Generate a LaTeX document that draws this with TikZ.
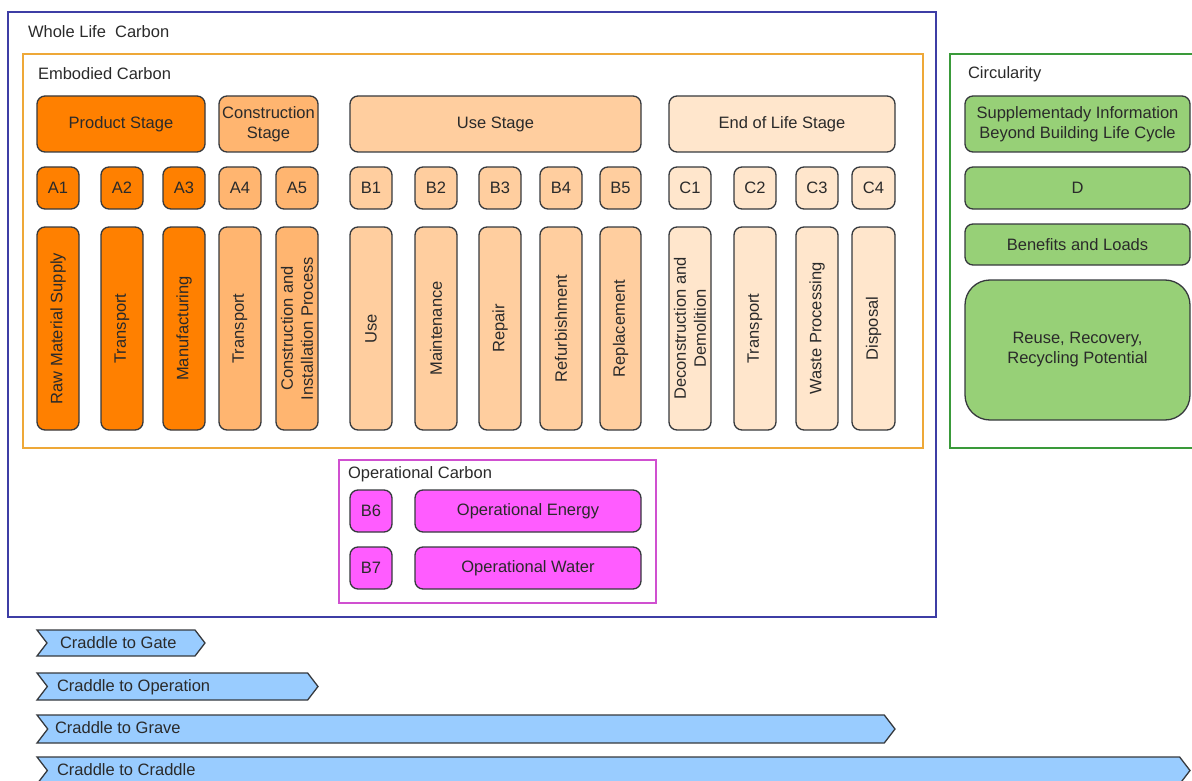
\documentclass[tikz,border=0pt]{standalone}
\usepackage{fontspec}
\setmainfont{Liberation Sans}
\usetikzlibrary{shapes.symbols}
\definecolor{strk}{HTML}{36393D}
\definecolor{txt}{HTML}{2A2A2A}
\definecolor{prod}{HTML}{FF8000}
\definecolor{cons}{HTML}{FFB570}
\definecolor{usest}{HTML}{FFCE9F}
\definecolor{eol}{HTML}{FFE6CC}
\definecolor{opc}{HTML}{FF5CFF}
\definecolor{circ}{HTML}{97D077}
\definecolor{chev}{HTML}{99CCFF}
\definecolor{wlc}{HTML}{3D3DA5}
\definecolor{emb}{HTML}{EEA838}
\definecolor{circfr}{HTML}{3A9A3A}
\definecolor{opfr}{HTML}{D050D0}
\newcommand\bx[7]{%
  \pgfmathsetmacro\bxw{#4-#2}\pgfmathsetmacro\bxh{#5-#3}%
  \pgfmathsetmacro\bxx{(#2+#4)/2}\pgfmathsetmacro\bxy{(#3+#5)/2}%
  \node[#6, minimum width=\bxw pt, minimum height=\bxh pt] (#1) at (\bxx,\bxy) {#7};}
\newcommand\vbx[7]{%
  \pgfmathsetmacro\bxw{#4-#2}\pgfmathsetmacro\bxh{#5-#3}%
  \pgfmathsetmacro\bxx{(#2+#4)/2}\pgfmathsetmacro\bxy{(#3+#5)/2}%
  \node[#6, rotate=90, minimum width=\bxh pt, minimum height=\bxw pt] (#1) at (\bxx,\bxy) {#7};}
\tikzset{
  base/.style={inner sep=0pt, outer sep=0pt, text=txt, align=center,
    font=\fontsize{16.5}{20}\selectfont},
  box/.style={base, draw=strk, line width=1.3pt, rounded corners=8pt},
  pbox/.style={box, fill=prod},
  cbox/.style={box, fill=cons},
  ubox/.style={box, fill=usest},
  ebox/.style={box, fill=eol},
  obox/.style={box, fill=opc},
  gbox/.style={box, fill=circ},
  frame/.style={inner sep=0pt, outer sep=0pt, line width=1.2pt},
  lbl/.style={base, anchor=west},
  chevbox/.style={signal, signal from=west, signal to=east, signal pointer angle=105,
    draw=strk, fill=chev, line width=1.3pt, inner sep=0pt, outer sep=0pt},
}
\begin{document}
\begin{tikzpicture}[x=1pt,y=-1pt]
\useasboundingbox (0,0) rectangle (1192,781);
\clip (0,0) rectangle (1192,781);
% frames
\bx{wlcf}{8}{12}{936}{617}{frame, draw=wlc}{}
\node[lbl] (wlct) at (28,32) {Whole Life\ \ Carbon};
\bx{embf}{23}{54}{923}{448}{frame, draw=emb}{}
\node[lbl] (embt) at (38,74) {Embodied Carbon};
\bx{circf}{950}{54}{1198}{448}{frame, draw=circfr}{}
\node[lbl] (circt) at (968,74) {Circularity};
\bx{opf}{339}{460}{656}{603}{frame, draw=opfr}{}
\node[lbl] (opt) at (348,474) {Operational Carbon};
% stages
\bx{ps}{37}{96}{205}{152}{pbox}{Product Stage}
\bx{cs}{219}{96}{318}{152}{cbox}{Construction\\Stage}
\bx{us}{350}{96}{641}{152}{ubox}{Use Stage}
\bx{es}{669}{96}{895}{152}{ebox}{End of Life Stage}
% codes
\bx{a1}{37}{167}{79}{209}{pbox}{A1}
\bx{a2}{101}{167}{143}{209}{pbox}{A2}
\bx{a3}{163}{167}{205}{209}{pbox}{A3}
\bx{a4}{219}{167}{261}{209}{cbox}{A4}
\bx{a5}{276}{167}{318}{209}{cbox}{A5}
\bx{b1}{350}{167}{392}{209}{ubox}{B1}
\bx{b2}{415}{167}{457}{209}{ubox}{B2}
\bx{b3}{479}{167}{521}{209}{ubox}{B3}
\bx{b4}{540}{167}{582}{209}{ubox}{B4}
\bx{b5}{600}{167}{641}{209}{ubox}{B5}
\bx{c1}{669}{167}{711}{209}{ebox}{C1}
\bx{c2}{734}{167}{776}{209}{ebox}{C2}
\bx{c3}{796}{167}{838}{209}{ebox}{C3}
\bx{c4}{852}{167}{895}{209}{ebox}{C4}
% tall boxes
\vbx{ta1}{37}{227}{79}{430}{pbox}{Raw Material Supply}
\vbx{ta2}{101}{227}{143}{430}{pbox}{Transport}
\vbx{ta3}{163}{227}{205}{430}{pbox}{Manufacturing}
\vbx{ta4}{219}{227}{261}{430}{cbox}{Transport}
\vbx{ta5}{276}{227}{318}{430}{cbox}{Construction and\\Installation Process}
\vbx{tb1}{350}{227}{392}{430}{ubox}{Use}
\vbx{tb2}{415}{227}{457}{430}{ubox}{Maintenance}
\vbx{tb3}{479}{227}{521}{430}{ubox}{Repair}
\vbx{tb4}{540}{227}{582}{430}{ubox}{Refurbishment}
\vbx{tb5}{600}{227}{641}{430}{ubox}{Replacement}
\vbx{tc1}{669}{227}{711}{430}{ebox}{Deconstruction and\\Demolition}
\vbx{tc2}{734}{227}{776}{430}{ebox}{Transport}
\vbx{tc3}{796}{227}{838}{430}{ebox}{Waste Processing}
\vbx{tc4}{852}{227}{895}{430}{ebox}{Disposal}
% operational
\bx{b6}{350}{490}{392}{532}{obox}{B6}
\bx{oe}{415}{490}{641}{532}{obox}{Operational Energy}
\bx{b7}{350}{547}{392}{589}{obox}{B7}
\bx{ow}{415}{547}{641}{589}{obox}{Operational Water}
% circularity
\bx{sup}{965}{96}{1190}{152}{gbox}{Supplementady Information\\Beyond Building Life Cycle}
\bx{dd}{965}{167}{1190}{209}{gbox}{D}
\bx{bl}{965}{224}{1190}{265}{gbox}{Benefits and Loads}
\bx{rr}{965}{280}{1190}{420}{gbox, rounded corners=25pt}{Reuse, Recovery,\\Recycling Potential}
% chevrons
\bx{cg}{37}{630}{205}{656}{chevbox}{}
\node[lbl] (cgt) at (60,643) {Craddle to Gate};
\bx{co}{37}{673}{318}{700}{chevbox}{}
\node[lbl] (cot) at (57,687) {Craddle to Operation};
\bx{cgr}{37}{715}{895}{743}{chevbox}{}
\node[lbl] (cgrt) at (55,728) {Craddle to Grave};
\bx{cc}{37}{757}{1190}{784}{chevbox}{}
\node[lbl] (cct) at (57,770) {Craddle to Craddle};
\end{tikzpicture}
\end{document}
